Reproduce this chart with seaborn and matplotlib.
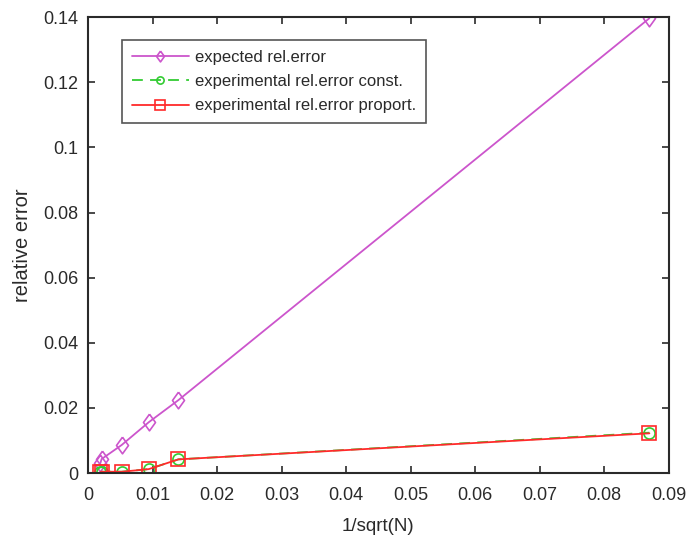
import numpy as np
import pandas as pd
import matplotlib
matplotlib.use("Agg")
import matplotlib.pyplot as plt
import seaborn as sns

# Sample sizes expressed as 1/sqrt(N)
inv_sqrt_n = [0.0019, 0.0021, 0.0052, 0.0094, 0.0140, 0.0870]
expected_err = [0.0030, 0.0043, 0.0086, 0.0156, 0.0224, 0.1397]
exp_err_const = [0.0003, 0.0004, 0.0004, 0.0012, 0.0042, 0.0124]
exp_err_proport = [0.0003, 0.0004, 0.0004, 0.0012, 0.0042, 0.0122]

series_names = ["expected rel.error", "experimental rel.error const.", "experimental rel.error proport."]

sns.set_style("ticks")
plt.rcParams["font.family"] = ["Liberation Sans", "DejaVu Sans"]

fig, ax = plt.subplots(figsize=(6.88, 5.4), dpi=100)
fig.subplots_adjust(left=0.128, right=0.972, top=0.968, bottom=0.124)

diamond = [(0, 1), (0.72, 0), (0, -1), (-0.72, 0), (0, 1)]

purple = "#cc55cc"
green = "#33cc33"
red = "#ff2a2a"
ink = "#2a2a2a"

sns.lineplot(x=inv_sqrt_n, y=expected_err, ax=ax, color=purple, lw=1.3,
             marker=diamond, markersize=12, markerfacecolor="none",
             markeredgecolor=purple, markeredgewidth=1.2,
             label=series_names[0], sort=False)
sns.lineplot(x=inv_sqrt_n, y=exp_err_const, ax=ax, color=green, lw=1.3,
             linestyle=(0, (6, 4)), marker="o", markersize=8,
             markerfacecolor="none", markeredgecolor=green, markeredgewidth=1.2,
             label=series_names[1], sort=False)
sns.lineplot(x=inv_sqrt_n, y=exp_err_proport, ax=ax, color=red, lw=1.3,
             marker="s", markersize=10, markerfacecolor="none",
             markeredgecolor=red, markeredgewidth=1.2,
             label=series_names[2], sort=False)

ax.set_xlim(0, 0.09)
ax.set_ylim(0, 0.14)
ax.set_xticks(np.arange(0, 0.0901, 0.01))
ax.set_yticks(np.arange(0, 0.1401, 0.02))
ax.set_xticklabels(["0", "0.01", "0.02", "0.03", "0.04", "0.05", "0.06", "0.07", "0.08", "0.09"])
ax.set_yticklabels(["0", "0.02", "0.04", "0.06", "0.08", "0.1", "0.12", "0.14"])
ax.tick_params(direction="in", top=True, right=True, length=5, width=1.2,
               labelsize=13, colors=ink)
ax.tick_params(axis="x", pad=10)
ax.tick_params(axis="y", pad=7)
for s in ax.spines.values():
    s.set_linewidth(1.5)
    s.set_color(ink)
    s.set_visible(True)

ax.set_xlabel("1/sqrt(N)", fontsize=13.5, color=ink, labelpad=10)
ax.set_ylabel("relative error", fontsize=14.5, color=ink, labelpad=8)

leg = ax.legend(loc="upper left", bbox_to_anchor=(0.0585, 0.95), borderaxespad=0,
                fontsize=12, frameon=True, fancybox=False, edgecolor=ink,
                handlelength=3.4, handletextpad=0.4, borderpad=0.6,
                labelspacing=0.55, markerscale=0.65)
leg.get_frame().set_linewidth(1.2)
for t in leg.get_texts():
    t.set_color(ink)

fig.savefig("out.png", dpi=100)
